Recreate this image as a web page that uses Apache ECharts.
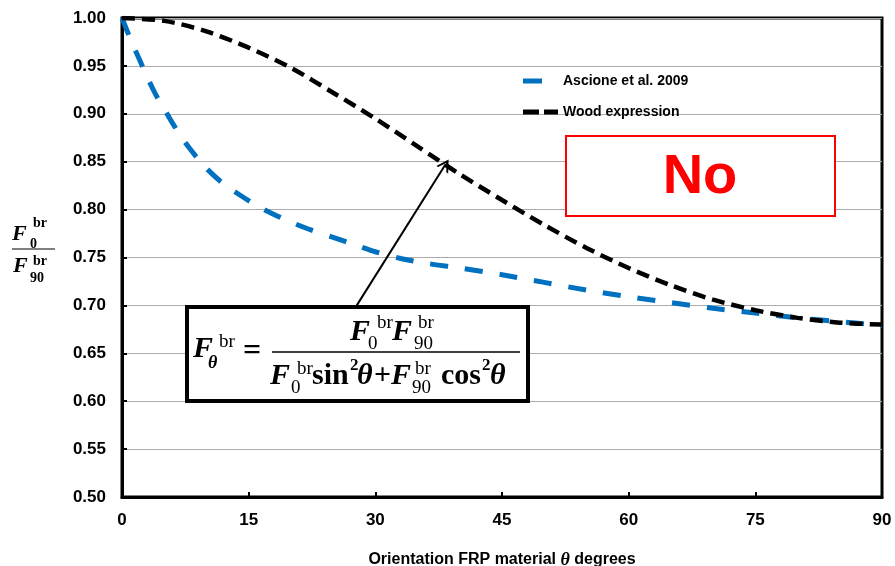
<!DOCTYPE html>
<html>
<head>
<meta charset="utf-8">
<script src="https://cdn.jsdelivr.net/npm/echarts@6/dist/echarts.min.js"></script>
<style>
html,body{margin:0;padding:0;background:#fff;}
#chart{width:895px;height:566px;}
</style>
</head>
<body>
<div id="chart"></div>
<script>
// Data
var xTicks = [0, 15, 30, 45, 60, 75, 90];
var yTicks = [0.50, 0.55, 0.60, 0.65, 0.70, 0.75, 0.80, 0.85, 0.90, 0.95, 1.00];

var ascioneTheta = [0,1,2,3,4,5,6,7,8,9,10,12,14,16,18,20,22,25,28,30,33,36,40,45,50,55,60,65,70,75,80,85,90];
var ascioneValues = [1.000,0.978,0.958,0.938,0.920,0.905,0.890,0.876,0.864,0.853,0.843,0.827,0.815,0.804,0.795,0.787,0.780,0.771,0.762,0.756,0.749,0.744,0.739,0.732,0.724,0.716,0.709,0.703,0.697,0.692,0.687,0.683,0.679];

var woodTheta = [0,5,10,15,20,25,30,35,40,45,50,55,60,65,70,75,80,85,90];
var woodValues = [1.000,0.997,0.986,0.969,0.948,0.922,0.895,0.866,0.837,0.810,0.784,0.760,0.739,0.721,0.706,0.695,0.687,0.682,0.680];

var seriesNames = ['Ascione et al. 2009', 'Wood expression'];
var arrowFrom = [27.8, 0.700];
var arrowTo = [38.3, 0.847];

function pairs(xs, ys){ return xs.map(function(x,i){ return [x, ys[i]]; }); }

var SANS = 'Liberation Sans';
var SERIF = 'Liberation Serif';

function t(x, y, text, size, bold, italic){
  return {type:'text', x:x, y:y, z:110, style:{text:text, fill:'#000', font:(italic?'italic ':'')+(bold?'bold ':'')+size+'px "'+SERIF+'"', verticalAlign:'middle', align:'left'}};
}

var chart = echarts.init(document.getElementById('chart'));
var option = {
  animation:false,
  backgroundColor:'#fff',
  grid:{left:122, right:13, top:18, bottom:69, show:true, borderColor:'#000', borderWidth:3, backgroundColor:'transparent', outerBoundsMode:'none', containLabel:false},
  legend:{
    orient:'vertical', left:523, top:74, padding:0, itemGap:17, itemWidth:35, itemHeight:5,
    data:[
      {name:seriesNames[0], icon:'path://M0,0 L19,0 L19,5 L0,5 Z M34.9,2.4 L35,2.4 L35,2.6 L34.9,2.6 Z'},
      {name:seriesNames[1], icon:'path://M0,0 L16,0 L16,5 L0,5 Z M21,0 L35,0 L35,5 L21,5 Z'}
    ],
    textStyle:{fontFamily:SANS, fontWeight:'bold', fontSize:14, color:'#000'}
  },
  xAxis:{
    type:'value', min:0, max:90, interval:15,
    name:'{a|Orientation FRP material }{b|θ}{a| degrees}', nameLocation:'middle', nameGap:54,
    nameTextStyle:{
      rich:{
        a:{fontFamily:SANS, fontWeight:'bold', fontSize:16, color:'#000'},
        b:{fontFamily:SERIF, fontWeight:'bold', fontStyle:'italic', fontSize:18, color:'#000'}
      }
    },
    axisLine:{lineStyle:{color:'#000', width:3}},
    axisTick:{inside:true, length:5, lineStyle:{color:'#000', width:2}},
    axisLabel:{fontFamily:SANS, fontWeight:'bold', fontSize:17, color:'#000', margin:15},
    splitLine:{show:false}
  },
  yAxis:{
    type:'value', min:0.5, max:1.0, interval:0.05,
    axisLine:{show:true, lineStyle:{color:'#000', width:3}},
    axisTick:{show:true, inside:true, length:5, lineStyle:{color:'#000', width:2}},
    axisLabel:{fontFamily:SANS, fontWeight:'bold', fontSize:17, color:'#000', margin:16,
      formatter:function(v){ return v.toFixed(2); }},
    splitLine:{show:true, lineStyle:{color:'#ababab', width:1}}
  },
  series:[
    {
      name:seriesNames[0], type:'line', data:pairs(ascioneTheta, ascioneValues),
      showSymbol:false, symbol:'none', smooth:0.3, z:3,
      lineStyle:{color:'#0070C0', width:5, type:[18,17]},
      itemStyle:{color:'#0070C0'}
    },
    {
      name:seriesNames[1], type:'line', data:pairs(woodTheta, woodValues),
      showSymbol:false, symbol:'none', smooth:0.3, z:4,
      lineStyle:{color:'#000', width:4.5, type:[13,7]},
      itemStyle:{color:'#000'},
      markLine:{
        silent:true, z:5,
        symbol:['none','path://M0,10 L5,0 L10,10 L8.4,10 L5,3.2 L1.6,10 Z'],
        symbolSize:[14,12],
        label:{show:false},
        lineStyle:{color:'#000', width:2, type:'solid'},
        data:[[{coord:arrowFrom},{coord:arrowTo}]]
      }
    }
  ],
  graphic:[
    // red "No" box
    {type:'rect', z:100, shape:{x:566, y:136, width:269, height:80}, style:{fill:'#fff', stroke:'#ff0000', lineWidth:2}},
    {type:'text', z:101, x:700, y:178, style:{text:'No', fill:'#ff0000', font:'bold 56px "'+SANS+'"', align:'center', verticalAlign:'middle'}},
    // equation box
    {type:'rect', z:100, shape:{x:187, y:307, width:341, height:94}, style:{fill:'#fff', stroke:'#000', lineWidth:4}},
    t(193,349,'F',30,true,true), t(219,342,'br',19,false,false), t(208,363,'θ',18,true,true),
    t(243,352,'=',32,true,false),
    {type:'line', z:110, shape:{x1:272, y1:352, x2:520, y2:352}, style:{stroke:'#000', lineWidth:1.5}},
    t(350,332,'F',30,true,true), t(368,344,'0',19,false,false), t(377,323,'br',19,false,false),
    t(392,332,'F',30,true,true), t(414,344,'90',19,false,false), t(418,323,'br',19,false,false),
    t(270,376,'F',30,true,true), t(291,388,'0',19,false,false), t(297,369,'br',19,false,false),
    t(312,376,'sin',30,true,false), t(350,366,'2',17,true,false), t(357,376,'θ',30,true,true),
    t(374,376,'+',30,true,false),
    t(391,376,'F',30,true,true), t(412,388,'90',19,false,false), t(415,369,'br',19,false,false),
    t(441,376,'cos',30,true,false), t(482,366,'2',17,true,false), t(490,376,'θ',30,true,true),
    // y axis name as a fraction
    t(12,234,'F',22,true,true), t(30,244,'0',14,true,false), t(33,223,'br',14,true,false),
    {type:'line', z:110, shape:{x1:12, y1:249, x2:55, y2:249}, style:{stroke:'#000', lineWidth:1.2}},
    t(13,266,'F',22,true,true), t(30,278,'90',14,true,false), t(33,261,'br',14,true,false)
  ]
};
chart.setOption(option);
</script>
</body>
</html>
